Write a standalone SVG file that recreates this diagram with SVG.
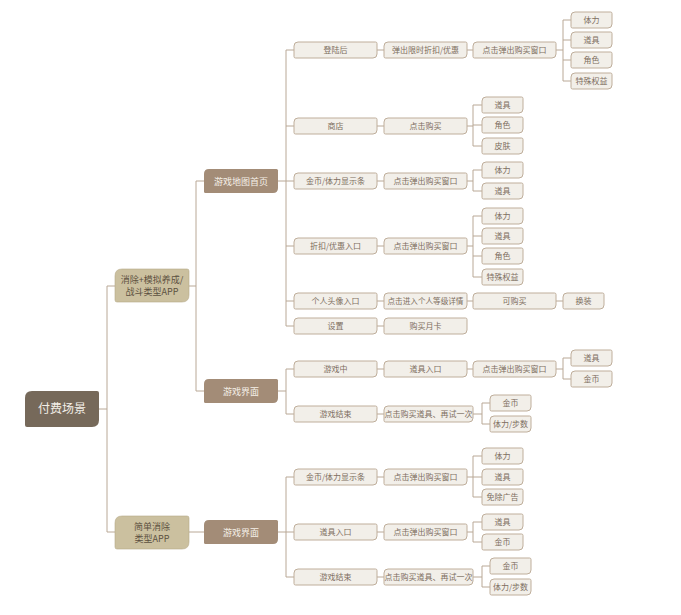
<svg xmlns="http://www.w3.org/2000/svg" xmlns:xlink="http://www.w3.org/1999/xlink" width="681" height="615" viewBox="0 0 681 615">
<style>
.lt{fill:#f2efe9;stroke:#bfae9b;stroke-width:1}
.lv2{fill:#a38c77}
.lv1{fill:#cbc09f;stroke:#b6aa88;stroke-width:0.6}
.rt{fill:#76695a}
text{font-family:"Noto Sans CJK SC","Noto Sans",sans-serif;text-anchor:middle}
.t8{font-size:8px;fill:#7d6e60}
.t9w{font-size:9px;fill:#f5f0e8}
.t9d{font-size:9px;fill:#5c5040}
.t12{font-size:12px;fill:#f3efe8}
.cn{fill:none;stroke:#b9a896;stroke-width:1}
</style>
<defs>
<path id="L41" d="M0,4 Q0,0 4,0 H39.5 Q41,0 41,1.5 V12 Q41,16 37,16 H1.5 Q0,16 0,14.5 Z"/>
<path id="L83" d="M0,4 Q0,0 4,0 H81.5 Q83,0 83,1.5 V12 Q83,16 79,16 H1.5 Q0,16 0,14.5 Z"/>
<path id="L89" d="M0,4 Q0,0 4,0 H87.5 Q89,0 89,1.5 V12 Q89,16 85,16 H1.5 Q0,16 0,14.5 Z"/>
<path id="D74" d="M0,5 Q0,0 5,0 H72.5 Q74,0 74,1.5 V19 Q74,24 69,24 H1.5 Q0,24 0,22.5 Z"/>
<path id="T74" d="M0,7 Q0,0 7,0 H72 Q74,0 74,2 V26 Q74,33 67,33 H2 Q0,33 0,31 Z"/>
<path id="R74" d="M0,7 Q0,0 7,0 H72 Q74,0 74,2 V29 Q74,36 67,36 H2 Q0,36 0,34 Z"/>
</defs>
<rect width="681" height="615" fill="#ffffff"/>
<g id="connectors" class="cn">
<path d="M99,409 H107 M115,286 H107 V532 H115"/>
<path d="M189,286 H196 M204,181 H196 V391 H204"/>
<path d="M189,532 H204"/>
<path d="M278,181 H286 M294,50 H286 V326 H294 M286,126 H294 M286,181 H294 M286,246 H294 M286,301 H294"/>
<path d="M377,50 H384 M377,126 H384 M377,181 H384 M377,246 H384 M377,301 H384 M377,326 H384"/>
<path d="M466,50 H473 M556,50 H563 M571,20 H563 V81 H571 M563,40 H571 M563,60 H571"/>
<path d="M466,126 H473 M482,105 H473 V146 H482 M473,125 H482"/>
<path d="M466,181 H473 M482,170 H473 V191 H482"/>
<path d="M466,246 H473 M482,216 H473 V277 H482 M473,236 H482 M473,256 H482"/>
<path d="M466,301 H473 M556,301 H563"/>
<path d="M278,391 H286 M294,369 H286 V414 H294"/>
<path d="M377,369 H384 M466,369 H473 M556,369 H563 M571,358 H563 V379 H571"/>
<path d="M377,414 H384 M473,414 H482 M490,403 H482 V424 H490"/>
<path d="M278,532 H286 M294,477 H286 V577 H294 M286,532 H294"/>
<path d="M377,477 H384 M466,477 H473 M482,456 H473 V497 H482 M473,477 H482"/>
<path d="M377,532 H384 M466,532 H473 M482,522 H473 V542 H482"/>
<path d="M377,577 H384 M473,577 H482 M490,566 H482 V587 H490"/>
</g>
<g id="root"><use href="#R74" x="25" y="391" class="rt"/><text class="t12" x="62" y="413">付费场景</text></g>
<g id="app1"><use href="#T74" x="115" y="269" class="lv1"/><text class="t9d" x="152" y="282.5">消除+模拟养成/</text><text class="t9d" x="152" y="295">战斗类型APP</text></g>
<g id="app2"><use href="#T74" x="115" y="516" class="lv1"/><text class="t9d" x="152" y="530">简单消除</text><text class="t9d" x="152" y="541.5">类型APP</text></g>
<g id="map"><use href="#D74" x="204" y="169" class="lv2"/><text class="t9w" x="241" y="184.5">游戏地图首页</text></g>
<g id="ui1"><use href="#D74" x="204" y="379" class="lv2"/><text class="t9w" x="241" y="394.5">游戏界面</text></g>
<g id="ui2"><use href="#D74" x="204" y="520" class="lv2"/><text class="t9w" x="241" y="535.5">游戏界面</text></g>
<g id="n01"><use href="#L83" x="294" y="42" class="lt"/><text class="t8" x="335.5" y="53">登陆后</text></g>
<g id="n02"><use href="#L83" x="384" y="42" class="lt"/><text class="t8" x="425.5" y="53">弹出限时折扣/优惠</text></g>
<g id="n03"><use href="#L83" x="473" y="42" class="lt"/><text class="t8" x="514.5" y="53">点击弹出购买窗口</text></g>
<g id="n04"><use href="#L41" x="571" y="12" class="lt"/><text class="t8" x="591.5" y="23">体力</text></g>
<g id="n05"><use href="#L41" x="571" y="32" class="lt"/><text class="t8" x="591.5" y="43">道具</text></g>
<g id="n06"><use href="#L41" x="571" y="52" class="lt"/><text class="t8" x="591.5" y="63">角色</text></g>
<g id="n07"><use href="#L41" x="571" y="73" class="lt"/><text class="t8" x="591.5" y="84">特殊权益</text></g>
<g id="n08"><use href="#L83" x="294" y="118" class="lt"/><text class="t8" x="335.5" y="129">商店</text></g>
<g id="n09"><use href="#L83" x="384" y="118" class="lt"/><text class="t8" x="425.5" y="129">点击购买</text></g>
<g id="n10"><use href="#L41" x="482" y="97" class="lt"/><text class="t8" x="502.5" y="108">道具</text></g>
<g id="n11"><use href="#L41" x="482" y="117" class="lt"/><text class="t8" x="502.5" y="128">角色</text></g>
<g id="n12"><use href="#L41" x="482" y="138" class="lt"/><text class="t8" x="502.5" y="149">皮肤</text></g>
<g id="n13"><use href="#L83" x="294" y="173" class="lt"/><text class="t8" x="335.5" y="184">金币/体力显示条</text></g>
<g id="n14"><use href="#L83" x="384" y="173" class="lt"/><text class="t8" x="425.5" y="184">点击弹出购买窗口</text></g>
<g id="n15"><use href="#L41" x="482" y="162" class="lt"/><text class="t8" x="502.5" y="173">体力</text></g>
<g id="n16"><use href="#L41" x="482" y="183" class="lt"/><text class="t8" x="502.5" y="194">道具</text></g>
<g id="n17"><use href="#L83" x="294" y="238" class="lt"/><text class="t8" x="335.5" y="249">折扣/优惠入口</text></g>
<g id="n18"><use href="#L83" x="384" y="238" class="lt"/><text class="t8" x="425.5" y="249">点击弹出购买窗口</text></g>
<g id="n19"><use href="#L41" x="482" y="208" class="lt"/><text class="t8" x="502.5" y="219">体力</text></g>
<g id="n20"><use href="#L41" x="482" y="228" class="lt"/><text class="t8" x="502.5" y="239">道具</text></g>
<g id="n21"><use href="#L41" x="482" y="248" class="lt"/><text class="t8" x="502.5" y="259">角色</text></g>
<g id="n22"><use href="#L41" x="482" y="269" class="lt"/><text class="t8" x="502.5" y="280">特殊权益</text></g>
<g id="n23"><use href="#L83" x="294" y="293" class="lt"/><text class="t8" x="335.5" y="304">个人头像入口</text></g>
<g id="n24"><use href="#L83" x="384" y="293" class="lt"/><text class="t8" x="425.5" y="304" style="font-size:7.6px">点击进入个人等级详情</text></g>
<g id="n25"><use href="#L83" x="473" y="293" class="lt"/><text class="t8" x="514.5" y="304">可购买</text></g>
<g id="n26"><use href="#L41" x="563" y="293" class="lt"/><text class="t8" x="583.5" y="304">换装</text></g>
<g id="n27"><use href="#L83" x="294" y="318" class="lt"/><text class="t8" x="335.5" y="329">设置</text></g>
<g id="n28"><use href="#L83" x="384" y="318" class="lt"/><text class="t8" x="425.5" y="329">购买月卡</text></g>
<g id="n29"><use href="#L83" x="294" y="361" class="lt"/><text class="t8" x="335.5" y="372">游戏中</text></g>
<g id="n30"><use href="#L83" x="384" y="361" class="lt"/><text class="t8" x="425.5" y="372">道具入口</text></g>
<g id="n31"><use href="#L83" x="473" y="361" class="lt"/><text class="t8" x="514.5" y="372">点击弹出购买窗口</text></g>
<g id="n32"><use href="#L41" x="571" y="350" class="lt"/><text class="t8" x="591.5" y="361">道具</text></g>
<g id="n33"><use href="#L41" x="571" y="371" class="lt"/><text class="t8" x="591.5" y="382">金币</text></g>
<g id="n34"><use href="#L83" x="294" y="406" class="lt"/><text class="t8" x="335.5" y="417">游戏结束</text></g>
<g id="n35"><use href="#L89" x="384" y="406" class="lt"/><text class="t8" x="428.5" y="417">点击购买道具、再试一次</text></g>
<g id="n36"><use href="#L41" x="490" y="395" class="lt"/><text class="t8" x="510.5" y="406">金币</text></g>
<g id="n37"><use href="#L41" x="490" y="416" class="lt"/><text class="t8" x="510.5" y="427">体力/步数</text></g>
<g id="n38"><use href="#L83" x="294" y="469" class="lt"/><text class="t8" x="335.5" y="480">金币/体力显示条</text></g>
<g id="n39"><use href="#L83" x="384" y="469" class="lt"/><text class="t8" x="425.5" y="480">点击弹出购买窗口</text></g>
<g id="n40"><use href="#L41" x="482" y="448" class="lt"/><text class="t8" x="502.5" y="459">体力</text></g>
<g id="n41"><use href="#L41" x="482" y="469" class="lt"/><text class="t8" x="502.5" y="480">道具</text></g>
<g id="n42"><use href="#L41" x="482" y="489" class="lt"/><text class="t8" x="502.5" y="500">免除广告</text></g>
<g id="n43"><use href="#L83" x="294" y="524" class="lt"/><text class="t8" x="335.5" y="535">道具入口</text></g>
<g id="n44"><use href="#L83" x="384" y="524" class="lt"/><text class="t8" x="425.5" y="535">点击弹出购买窗口</text></g>
<g id="n45"><use href="#L41" x="482" y="514" class="lt"/><text class="t8" x="502.5" y="525">道具</text></g>
<g id="n46"><use href="#L41" x="482" y="534" class="lt"/><text class="t8" x="502.5" y="545">金币</text></g>
<g id="n47"><use href="#L83" x="294" y="569" class="lt"/><text class="t8" x="335.5" y="580">游戏结束</text></g>
<g id="n48"><use href="#L89" x="384" y="569" class="lt"/><text class="t8" x="428.5" y="580">点击购买道具、再试一次</text></g>
<g id="n49"><use href="#L41" x="490" y="558" class="lt"/><text class="t8" x="510.5" y="569">金币</text></g>
<g id="n50"><use href="#L41" x="490" y="579" class="lt"/><text class="t8" x="510.5" y="590">体力/步数</text></g>
</svg>
